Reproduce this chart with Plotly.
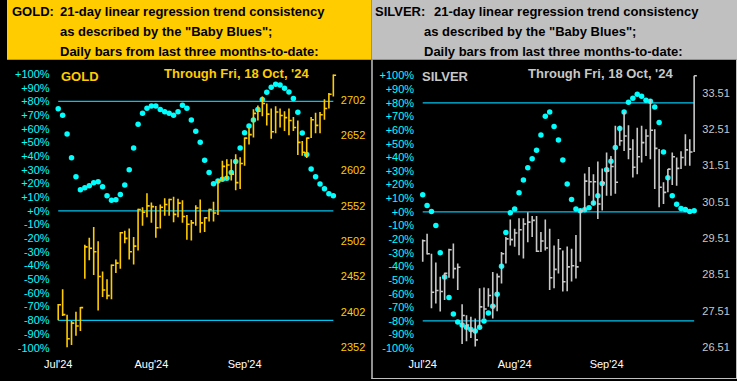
import plotly.graph_objects as go

W, H = 737, 381

# ---------------- data ----------------
months = ["Jul'24", "Aug'24", "Sep'24"]
month_bars = [0, 21, 42]

pct_ticks = list(range(-100, 101, 10))
pct_labels = [f"{v:+d}%" for v in pct_ticks]
levels = [80, 0, -80]

gold_ticks = [2352, 2402, 2452, 2502, 2552, 2602, 2652, 2702]
silver_ticks = [26.51, 27.51, 28.51, 29.51, 30.51, 31.51, 32.51, 33.51]

gold_bb = [74.7, 70.0, 56.2, 38.8, 24.9, 15.5, 16.9, 18.4, 20.6, 21.3,
           17.7, 11.1, 7.8, 8.2, 11.9, 18.9, 30.0, 46.0, 63.3, 71.3,
           75.1, 76.6, 76.6, 74.2, 72.5, 71.3, 70.0, 72.5, 77.3, 75.1,
           66.4, 58.2, 50.2, 37.1, 28.1, 19.9, 21.8, 23.1, 23.8, 28.1,
           36.1, 46.0, 57.2, 62.0, 66.4, 74.2, 81.5, 86.8, 90.4, 92.6,
           92.0, 89.7, 86.9, 82.2, 72.2, 56.9, 41.3, 30.7, 24.9, 19.6,
           16.2, 12.6, 11.1]
gold_high = [2413, 2434, 2398, 2389, 2402, 2409, 2497, 2507, 2522, 2502,
             2459, 2448, 2469, 2476, 2515, 2517, 2520, 2508, 2548, 2550,
             2570, 2557, 2552, 2554, 2563, 2562, 2565, 2562, 2560, 2539,
             2532, 2553, 2561, 2536, 2548, 2558, 2590, 2616, 2618, 2618,
             2625, 2621, 2649, 2663, 2689, 2694, 2707, 2697, 2690, 2693,
             2690, 2686, 2690, 2678, 2673, 2644, 2649, 2678, 2684, 2685,
             2703, 2712, 2738]
gold_low = [2390, 2396, 2352, 2355, 2368, 2375, 2449, 2475, 2454, 2404,
            2423, 2420, 2420, 2457, 2463, 2499, 2476, 2469, 2489, 2524,
            2536, 2528, 2507, 2520, 2538, 2538, 2529, 2536, 2528, 2504,
            2503, 2524, 2514, 2515, 2530, 2530, 2539, 2588, 2590, 2588,
            2574, 2576, 2609, 2639, 2649, 2673, 2679, 2666, 2647, 2655,
            2663, 2658, 2652, 2658, 2624, 2623, 2620, 2648, 2655, 2655,
            2674, 2690, 2707]
gold_close = [2412, 2398, 2364, 2386, 2382, 2408, 2494, 2492, 2487, 2452,
              2433, 2425, 2468, 2471, 2514, 2506, 2487, 2495, 2547, 2543,
              2552, 2551, 2521, 2550, 2554, 2561, 2540, 2556, 2537, 2526,
              2528, 2549, 2528, 2535, 2547, 2542, 2588, 2608, 2610, 2597,
              2585, 2612, 2648, 2653, 2683, 2686, 2697, 2682, 2657, 2685,
              2680, 2677, 2673, 2663, 2642, 2628, 2648, 2674, 2666, 2681,
              2690, 2710, 2737]

silver_bb = [12.6, 4.6, 0.2, -10.0, -29.9, -47.7, -62.8, -75.0, -80.8, -83.0,
             -84.7, -86.4, -87.4, -84.7, -80.1, -74.2, -69.3, -60.4, -39.9, -15.1,
             -0.7, 2.2, 14.1, 23.4, 32.3, 38.9, 45.3, 56.4, 70.1, 73.2,
             62.6, 52.8, 38.0, 20.4, 9.0, 2.2, 0.9, 1.5, 3.1, 6.6,
             11.9, 20.9, 30.9, 37.2, 47.2, 61.1, 73.2, 80.5, 83.4, 86.4,
             84.9, 82.0, 81.2, 76.9, 65.5, 44.0, 25.0, 11.9, 5.6, 2.4,
             1.7, 0.2, 0.9]
silver_high = [29.47, 29.63, 29.08, 28.84, 28.45, 28.56, 29.22, 29.36, 28.81, 27.69,
               27.39, 27.35, 27.30, 28.13, 28.15, 28.13, 28.58, 28.54, 29.13, 29.54,
               30.02, 29.77, 30.06, 30.06, 30.22, 30.12, 30.12, 29.68, 30.02, 29.77,
               29.31, 29.49, 29.17, 29.28, 29.22, 29.60, 30.32, 31.29, 31.47, 31.27,
               31.62, 31.43, 31.87, 31.77, 32.60, 32.60, 32.99, 32.62, 32.23, 32.55,
               32.60, 32.51, 33.33, 32.51, 31.96, 31.05, 31.41, 31.87, 31.73, 31.90,
               32.37, 32.23, 33.98]
silver_low = [28.86, 29.06, 27.58, 27.71, 27.49, 27.81, 28.42, 28.40, 28.08, 26.60,
              26.67, 26.76, 26.53, 27.03, 27.30, 27.62, 27.30, 27.50, 28.26, 28.81,
              29.31, 29.27, 29.04, 28.95, 29.40, 29.54, 29.13, 29.13, 29.17, 28.08,
              28.13, 28.54, 28.04, 28.05, 28.32, 28.40, 28.86, 30.27, 30.68, 30.41,
              30.04, 30.27, 30.68, 30.68, 30.73, 32.05, 31.91, 31.68, 31.18, 31.27,
              31.59, 31.77, 31.68, 30.86, 30.36, 30.45, 30.77, 30.97, 30.95, 31.41,
              31.50, 31.50, 31.88]
silver_close = [29.44, 29.08, 28.02, 28.07, 28.04, 28.54, 29.19, 28.67, 28.71, 27.38,
                27.12, 26.96, 26.71, 27.62, 27.56, 27.93, 27.64, 28.45, 29.08, 29.49,
                29.47, 29.65, 29.74, 29.90, 29.95, 30.00, 29.15, 29.43, 29.24, 28.42,
                28.65, 29.22, 28.31, 28.72, 28.75, 28.72, 30.26, 31.08, 31.06, 31.06,
                30.45, 31.03, 31.36, 31.48, 31.05, 32.19, 32.32, 31.96, 31.46, 31.75,
                32.14, 32.32, 32.48, 31.98, 30.91, 30.77, 31.41, 31.75, 31.43, 31.73,
                31.94, 31.88, 33.98]

# ---------------- styling ----------------
FONT = "Liberation Sans, Arial, Helvetica, sans-serif"
GOLD = "#ffcc00"
SILVER = "#c8c8c8"
CYAN = "#00ffff"
LINE = "#00c4f0"


def bar_path(high, low, close, tick=0.62):
    xs, ys = [], []
    for i, (h, l, c) in enumerate(zip(high, low, close)):
        xs += [i, i, None, i, i + tick, None]
        ys += [l, h, None, c, c, None]
    return xs, ys


def level_path(levels, n):
    xs, ys = [], []
    for lv in levels:
        xs += [0, n - 1, None]
        ys += [lv, lv, None]
    return xs, ys


n = len(gold_bb)
idx = list(range(n))

fig = go.Figure()

# gold
gx, gy = bar_path(gold_high, gold_low, gold_close)
fig.add_trace(go.Scatter(x=gx, y=gy, mode="lines", xaxis="x", yaxis="y2",
                         line=dict(color=GOLD, width=1.6), hoverinfo="skip"))
lx, ly = level_path(levels, n)
fig.add_trace(go.Scatter(x=lx, y=ly, mode="lines", xaxis="x", yaxis="y",
                         line=dict(color=LINE, width=1.2), hoverinfo="skip"))
fig.add_trace(go.Scatter(x=idx, y=gold_bb, mode="markers", xaxis="x", yaxis="y",
                         marker=dict(color=CYAN, size=5.5, symbol="circle"),
                         cliponaxis=False))

# silver
sx, sy = bar_path(silver_high, silver_low, silver_close)
fig.add_trace(go.Scatter(x=sx, y=sy, mode="lines", xaxis="x2", yaxis="y4",
                         line=dict(color=SILVER, width=1.6), hoverinfo="skip"))
fig.add_trace(go.Scatter(x=lx, y=ly, mode="lines", xaxis="x2", yaxis="y3",
                         line=dict(color=LINE, width=1.2), hoverinfo="skip"))
fig.add_trace(go.Scatter(x=idx, y=silver_bb, mode="markers", xaxis="x2", yaxis="y3",
                         marker=dict(color=CYAN, size=5.5, symbol="circle"),
                         cliponaxis=False))

# ---------------- geometry (pixels -> paper) ----------------
top_px, bot_px = 62, 354
ydom = [1 - bot_px / H, 1 - top_px / H]

g_pct_range = [(212 - bot_px) / 1.375, (212 - top_px) / 1.375]
g_px_range = [2352 - (bot_px - 349) / 0.71, 2352 + (349 - top_px) / 0.71]
s_pct_range = [(213 - bot_px) / 1.37, (213 - top_px) / 1.37]
s_px_range = [26.51 - (bot_px - 349) / 36.53, 26.51 + (349 - top_px) / 36.53]

g_dom = [44, 336]
g_x0, g_step = 51.7, 4.48
s_dom = [412, 701]
s_x0, s_step = 419.7, 4.42

g_xrange = [-(g_x0 - g_dom[0]) / g_step, (g_dom[1] - g_x0) / g_step]
s_xrange = [-(s_x0 - s_dom[0]) / s_step, (s_dom[1] - s_x0) / s_step]

axis_common = dict(showgrid=False, zeroline=False, showline=False, ticks="",
                   fixedrange=True)

fig.update_layout(
    width=W, height=H,
    margin=dict(l=0, r=0, t=0, b=0),
    paper_bgcolor="black", plot_bgcolor="black",
    showlegend=False,
    font=dict(family=FONT),
    xaxis=dict(domain=[g_dom[0] / W, g_dom[1] / W], range=g_xrange, anchor="y",
               tickvals=month_bars, ticktext=months, ticklabelstandoff=4,
               tickfont=dict(color="white", size=11, family=FONT), **axis_common),
    yaxis=dict(domain=ydom, range=g_pct_range, anchor="x", side="left",
               tickvals=pct_ticks, ticktext=pct_labels,
               tickfont=dict(color=CYAN, size=11, family=FONT), **axis_common),
    yaxis2=dict(range=g_px_range, overlaying="y", anchor="x", side="right",
                tickvals=gold_ticks, ticktext=[str(v) for v in gold_ticks],
                tickfont=dict(color=GOLD, size=11, family=FONT), **axis_common),
    xaxis2=dict(domain=[s_dom[0] / W, s_dom[1] / W], range=s_xrange, anchor="y3",
                tickvals=month_bars, ticktext=months, ticklabelstandoff=4,
                tickfont=dict(color="white", size=11, family=FONT), **axis_common),
    yaxis3=dict(domain=ydom, range=s_pct_range, anchor="x2", side="left",
                tickvals=pct_ticks, ticktext=pct_labels,
                tickfont=dict(color=CYAN, size=11, family=FONT), **axis_common),
    yaxis4=dict(range=s_px_range, overlaying="y3", anchor="x2", side="right",
                tickvals=silver_ticks, ticktext=[f"{v:.2f}" for v in silver_ticks],
                tickfont=dict(color=SILVER, size=11, family=FONT), **axis_common),
)

# ---------------- header panels ----------------
hdr_h = 60
shapes = [
    dict(type="rect", xref="paper", yref="paper", x0=0, x1=368 / W,
         y0=1 - hdr_h / H, y1=1, fillcolor=GOLD, line=dict(width=0), layer="below"),
    dict(type="rect", xref="paper", yref="paper", x0=368 / W, x1=1,
         y0=1 - hdr_h / H, y1=1, fillcolor="#c0c0c0", line=dict(width=0), layer="below"),
    dict(type="line", xref="paper", yref="paper", x0=368.5 / W, x1=368.5 / W,
         y0=0, y1=1 - hdr_h / H, line=dict(color="#c0c0c0", width=1.5)),
    dict(type="line", xref="paper", yref="paper", x0=736.5 / W, x1=736.5 / W,
         y0=0, y1=1 - hdr_h / H, line=dict(color="#c0c0c0", width=1)),
    dict(type="line", xref="paper", yref="paper", x0=368 / W, x1=1,
         y0=0.5 / H, y1=0.5 / H, line=dict(color="#c0c0c0", width=1)),
]
fig.update_layout(shapes=shapes)


def txt(x, y, s, color="black", size=13, bold=True):
    return dict(xref="paper", yref="paper", x=x / W, y=1 - y / H, text=(f"<b>{s}</b>" if bold else s),
                showarrow=False, xanchor="left", yanchor="middle",
                font=dict(family=FONT, size=size, color=color))


ann = [
    txt(3, 12, "GOLD:"),
    txt(51, 12, "21-day linear regression trend consistency"),
    txt(51, 32, "as described by the \"Baby Blues\";"),
    txt(51, 52, "Daily bars from last three months-to-date:"),
    txt(370, 12, "SILVER:"),
    txt(429, 12, "21-day linear regression trend consistency"),
    txt(419, 32, "as described by the \"Baby Blues\";"),
    txt(419, 52, "Daily bars from last three months-to-date:"),
    txt(53, 77, "GOLD", color=GOLD, size=13),
    txt(156, 74, "Through Fri, 18 Oct, '24", color=GOLD, size=13),
    txt(417, 77, "SILVER", color=SILVER, size=13),
    txt(524, 74, "Through Fri, 18 Oct, '24", color=SILVER, size=13),
]
fig.update_layout(annotations=ann)

fig.write_html(
    "out.html",
    config={"displayModeBar": False, "staticPlot": True},
    post_script="document.body.style.margin='0';document.body.style.padding='0';"
                "document.body.style.overflow='hidden';"
                "document.documentElement.style.background='black';",
)
